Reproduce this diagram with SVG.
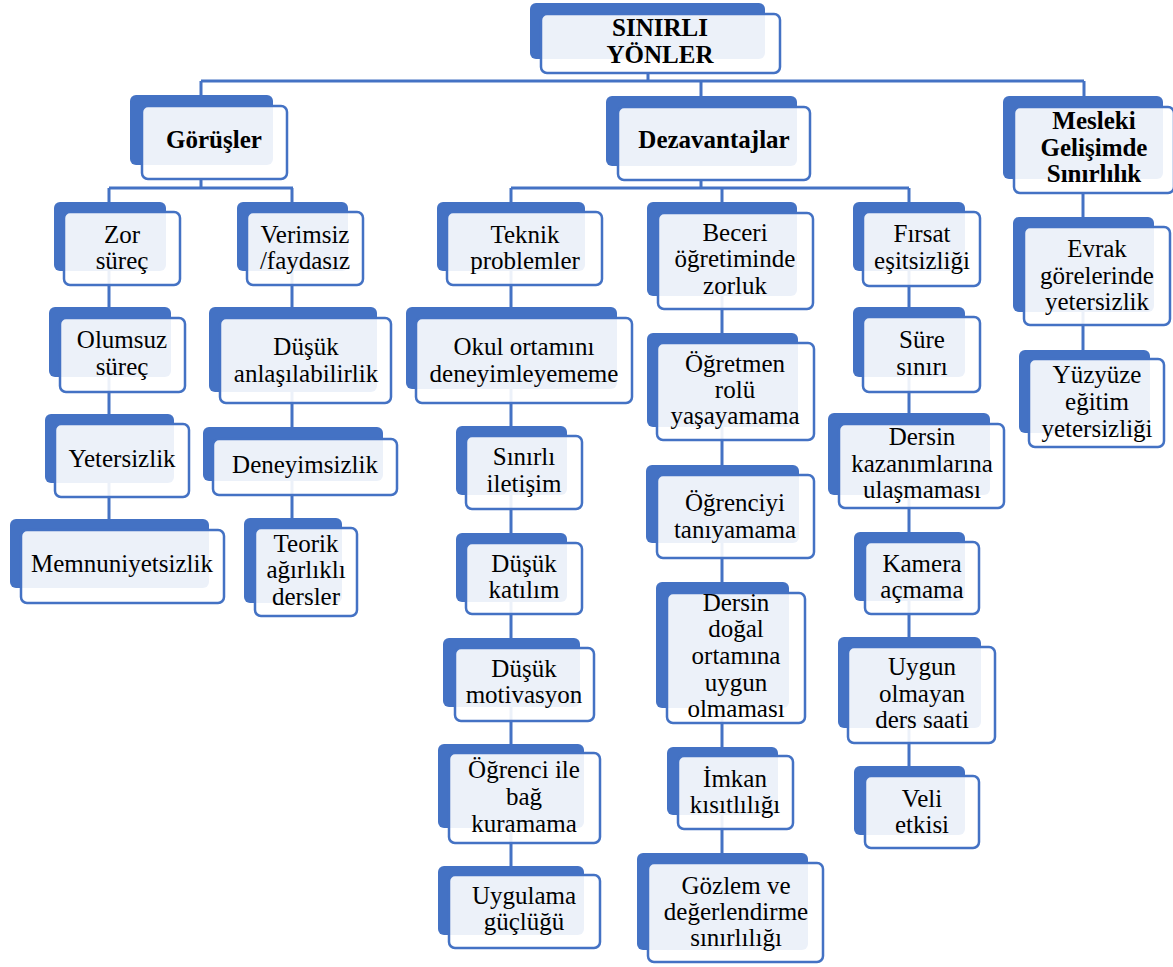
<svg xmlns="http://www.w3.org/2000/svg" width="1173" height="967" viewBox="0 0 1173 967">
<style>
.bk{fill:#4472C4}
.fr{fill:#fff;fill-opacity:0.9;stroke:#4472C4;stroke-width:2.5}
.t{font-family:'Liberation Serif','DejaVu Serif','Times New Roman',serif;font-size:25px;fill:#000;text-anchor:middle}
.b{font-weight:bold}
.c{stroke:#4472C4;stroke-width:3;fill:none}
</style>
<rect width="1173" height="967" fill="#fff"/>
<g id="connectors" class="c">
<path d="M648 73V81M201 81H1084M201 81V95M701 81V96M1084 81V96"/>
<path d="M201 179V188M109 188H293M109 188V519M292 188V518"/>
<path d="M701 180V188M511 188H909M511 188V866M722 188V853M909 188V766"/>
<path d="M1083 193V350"/>
</g>
<g font-family="Liberation Serif, DejaVu Serif, serif">
<g id="root"><rect class="bk" x="530" y="3" width="235" height="56" rx="6"/><rect class="fr" x="541" y="14" width="239" height="59" rx="6"/><text class="t b" x="660"><tspan x="660" y="36">SINIRLI</tspan><tspan x="660" y="63">YÖNLER</tspan></text></g>
<g id="gorusler"><rect class="bk" x="130" y="95" width="143" height="70" rx="6"/><rect class="fr" x="142" y="106" width="145" height="73" rx="6"/><text class="t b" x="214" y="148">Görüşler</text></g>
<g id="dezavantajlar"><rect class="bk" x="606" y="96" width="191" height="70" rx="6"/><rect class="fr" x="618" y="107" width="192" height="73" rx="6"/><text class="t b" x="714" y="148">Dezavantajlar</text></g>
<g id="mesleki"><rect class="bk" x="1003" y="96" width="160" height="83" rx="6"/><rect class="fr" x="1014" y="107" width="160" height="86" rx="6"/><text class="t b"><tspan x="1094" y="129">Mesleki</tspan><tspan x="1094" y="155.5">Gelişimde</tspan><tspan x="1094" y="182">Sınırlılık</tspan></text></g>

<g id="zor"><rect class="bk" x="54" y="202" width="112" height="69" rx="6"/><rect class="fr" x="64" y="212" width="116" height="73" rx="6"/><text class="t"><tspan x="122" y="243">Zor</tspan><tspan x="122" y="269">süreç</tspan></text></g>
<g id="verimsiz"><rect class="bk" x="237" y="202" width="111" height="69" rx="6"/><rect class="fr" x="247" y="212" width="116" height="73" rx="6"/><text class="t"><tspan x="305" y="243">Verimsiz</tspan><tspan x="305" y="269">/faydasız</tspan></text></g>
<g id="olumsuz"><rect class="bk" x="49" y="307" width="122" height="70" rx="6"/><rect class="fr" x="60" y="318" width="125" height="74" rx="6"/><text class="t"><tspan x="122" y="348">Olumsuz</tspan><tspan x="122" y="375">süreç</tspan></text></g>
<g id="dusuk-anl"><rect class="bk" x="209" y="307" width="168" height="85" rx="6"/><rect class="fr" x="220" y="318" width="171" height="85" rx="6"/><text class="t"><tspan x="306" y="355">Düşük</tspan><tspan x="306" y="382">anlaşılabilirlik</tspan></text></g>
<g id="yetersizlik"><rect class="bk" x="45" y="414" width="129" height="69" rx="6"/><rect class="fr" x="55" y="424" width="134" height="73" rx="6"/><text class="t" x="122" y="467">Yetersizlik</text></g>
<g id="deneyimsizlik"><rect class="bk" x="203" y="427" width="180" height="54" rx="6"/><rect class="fr" x="213" y="439" width="184" height="56" rx="6"/><text class="t" x="305" y="473">Deneyimsizlik</text></g>
<g id="memnuniyetsizlik"><rect class="bk" x="10" y="519" width="199" height="69" rx="6"/><rect class="fr" x="21" y="530" width="203" height="73" rx="6"/><text class="t" x="122" y="572">Memnuniyetsizlik</text></g>
<g id="teorik"><rect class="bk" x="244" y="518" width="98" height="85" rx="6"/><rect class="fr" x="255" y="528" width="102" height="88" rx="6"/><text class="t"><tspan x="306" y="552">Teorik</tspan><tspan x="306" y="578">ağırlıklı</tspan><tspan x="306" y="605">dersler</tspan></text></g>

<g id="teknik"><rect class="bk" x="437" y="202" width="148" height="69" rx="6"/><rect class="fr" x="447" y="212" width="155" height="73" rx="6"/><text class="t"><tspan x="525" y="243">Teknik</tspan><tspan x="525" y="269">problemler</tspan></text></g>
<g id="okul"><rect class="bk" x="406" y="307" width="211" height="82" rx="6"/><rect class="fr" x="416" y="318" width="216" height="85" rx="6"/><text class="t"><tspan x="524" y="355">Okul ortamını</tspan><tspan x="524" y="382">deneyimleyememe</tspan></text></g>
<g id="sinirli"><rect class="bk" x="456" y="426" width="111" height="69" rx="6"/><rect class="fr" x="466" y="436" width="116" height="73" rx="6"/><text class="t"><tspan x="524" y="465">Sınırlı</tspan><tspan x="524" y="492">iletişim</tspan></text></g>
<g id="katilim"><rect class="bk" x="456" y="533" width="111" height="69" rx="6"/><rect class="fr" x="466" y="543" width="116" height="71" rx="6"/><text class="t"><tspan x="524" y="572">Düşük</tspan><tspan x="524" y="598">katılım</tspan></text></g>
<g id="motivasyon"><rect class="bk" x="443" y="638" width="137" height="69" rx="6"/><rect class="fr" x="455" y="648" width="139" height="73" rx="6"/><text class="t"><tspan x="524" y="677">Düşük</tspan><tspan x="524" y="703">motivasyon</tspan></text></g>
<g id="bag"><rect class="bk" x="438" y="744" width="146" height="84" rx="6"/><rect class="fr" x="449" y="753" width="151" height="90" rx="6"/><text class="t"><tspan x="524" y="778">Öğrenci ile</tspan><tspan x="524" y="805">bağ</tspan><tspan x="524" y="832">kuramama</tspan></text></g>
<g id="uygulama"><rect class="bk" x="438" y="866" width="146" height="69" rx="6"/><rect class="fr" x="449" y="875" width="151" height="73" rx="6"/><text class="t"><tspan x="524" y="904">Uygulama</tspan><tspan x="524" y="930">güçlüğü</tspan></text></g>

<g id="beceri"><rect class="bk" x="647" y="202" width="150" height="94" rx="6"/><rect class="fr" x="658" y="213" width="155" height="96" rx="6"/><text class="t"><tspan x="735" y="241">Beceri</tspan><tspan x="735" y="267">öğretiminde</tspan><tspan x="735" y="294">zorluk</tspan></text></g>
<g id="ogretmen"><rect class="bk" x="647" y="333" width="151" height="94" rx="6"/><rect class="fr" x="657" y="343" width="157" height="97" rx="6"/><text class="t"><tspan x="735" y="372">Öğretmen</tspan><tspan x="735" y="398">rolü</tspan><tspan x="735" y="424">yaşayamama</tspan></text></g>
<g id="taniyamama"><rect class="bk" x="646" y="465" width="153" height="78" rx="6"/><rect class="fr" x="657" y="475" width="157" height="83" rx="6"/><text class="t"><tspan x="735" y="511">Öğrenciyi</tspan><tspan x="735" y="538">tanıyamama</tspan></text></g>
<g id="dogal"><rect class="bk" x="656" y="582" width="133" height="126" rx="6"/><rect class="fr" x="667" y="593" width="138" height="130" rx="6"/><text class="t"><tspan x="736" y="611">Dersin</tspan><tspan x="736" y="637">doğal</tspan><tspan x="736" y="664">ortamına</tspan><tspan x="736" y="691">uygun</tspan><tspan x="736" y="717">olmaması</tspan></text></g>
<g id="imkan"><rect class="bk" x="667" y="747" width="111" height="68" rx="6"/><rect class="fr" x="678" y="756" width="115" height="73" rx="6"/><text class="t"><tspan x="735" y="787">İmkan</tspan><tspan x="735" y="813">kısıtlılığı</tspan></text></g>
<g id="gozlem"><rect class="bk" x="637" y="853" width="171" height="97" rx="6"/><rect class="fr" x="648" y="863" width="175" height="99" rx="6"/><text class="t"><tspan x="736" y="894">Gözlem ve</tspan><tspan x="736" y="920">değerlendirme</tspan><tspan x="736" y="946">sınırlılığı</tspan></text></g>

<g id="firsat"><rect class="bk" x="853" y="202" width="112" height="69" rx="6"/><rect class="fr" x="863" y="212" width="117" height="74" rx="6"/><text class="t"><tspan x="922" y="242">Fırsat</tspan><tspan x="922" y="269">eşitsizliği</tspan></text></g>
<g id="sure"><rect class="bk" x="853" y="307" width="112" height="70" rx="6"/><rect class="fr" x="863" y="317" width="117" height="75" rx="6"/><text class="t"><tspan x="922" y="348">Süre</tspan><tspan x="922" y="375">sınırı</tspan></text></g>
<g id="kazanim"><rect class="bk" x="828" y="413" width="162" height="82" rx="6"/><rect class="fr" x="839" y="424" width="165" height="84" rx="6"/><text class="t"><tspan x="922" y="445">Dersin</tspan><tspan x="922" y="472">kazanımlarına</tspan><tspan x="922" y="498">ulaşmaması</tspan></text></g>
<g id="kamera"><rect class="bk" x="854" y="532" width="111" height="69" rx="6"/><rect class="fr" x="865" y="542" width="114" height="72" rx="6"/><text class="t"><tspan x="922" y="572">Kamera</tspan><tspan x="922" y="598">açmama</tspan></text></g>
<g id="ders-saati"><rect class="bk" x="838" y="637" width="143" height="91" rx="6"/><rect class="fr" x="848" y="647" width="147" height="96" rx="6"/><text class="t"><tspan x="922" y="675">Uygun</tspan><tspan x="922" y="702">olmayan</tspan><tspan x="922" y="728">ders saati</tspan></text></g>
<g id="veli"><rect class="bk" x="854" y="766" width="111" height="69" rx="6"/><rect class="fr" x="865" y="776" width="114" height="72" rx="6"/><text class="t"><tspan x="922" y="807">Veli</tspan><tspan x="922" y="833">etkisi</tspan></text></g>

<g id="evrak"><rect class="bk" x="1013" y="217" width="141" height="95" rx="6"/><rect class="fr" x="1024" y="227" width="146" height="98" rx="6"/><text class="t"><tspan x="1097" y="257">Evrak</tspan><tspan x="1097" y="284">görelerinde</tspan><tspan x="1097" y="310">yetersizlik</tspan></text></g>
<g id="yuzyuze"><rect class="bk" x="1019" y="350" width="131" height="83" rx="6"/><rect class="fr" x="1029" y="359" width="135" height="88" rx="6"/><text class="t"><tspan x="1097" y="383">Yüzyüze</tspan><tspan x="1097" y="410">eğitim</tspan><tspan x="1097" y="437">yetersizliği</tspan></text></g>
</g>
</svg>
